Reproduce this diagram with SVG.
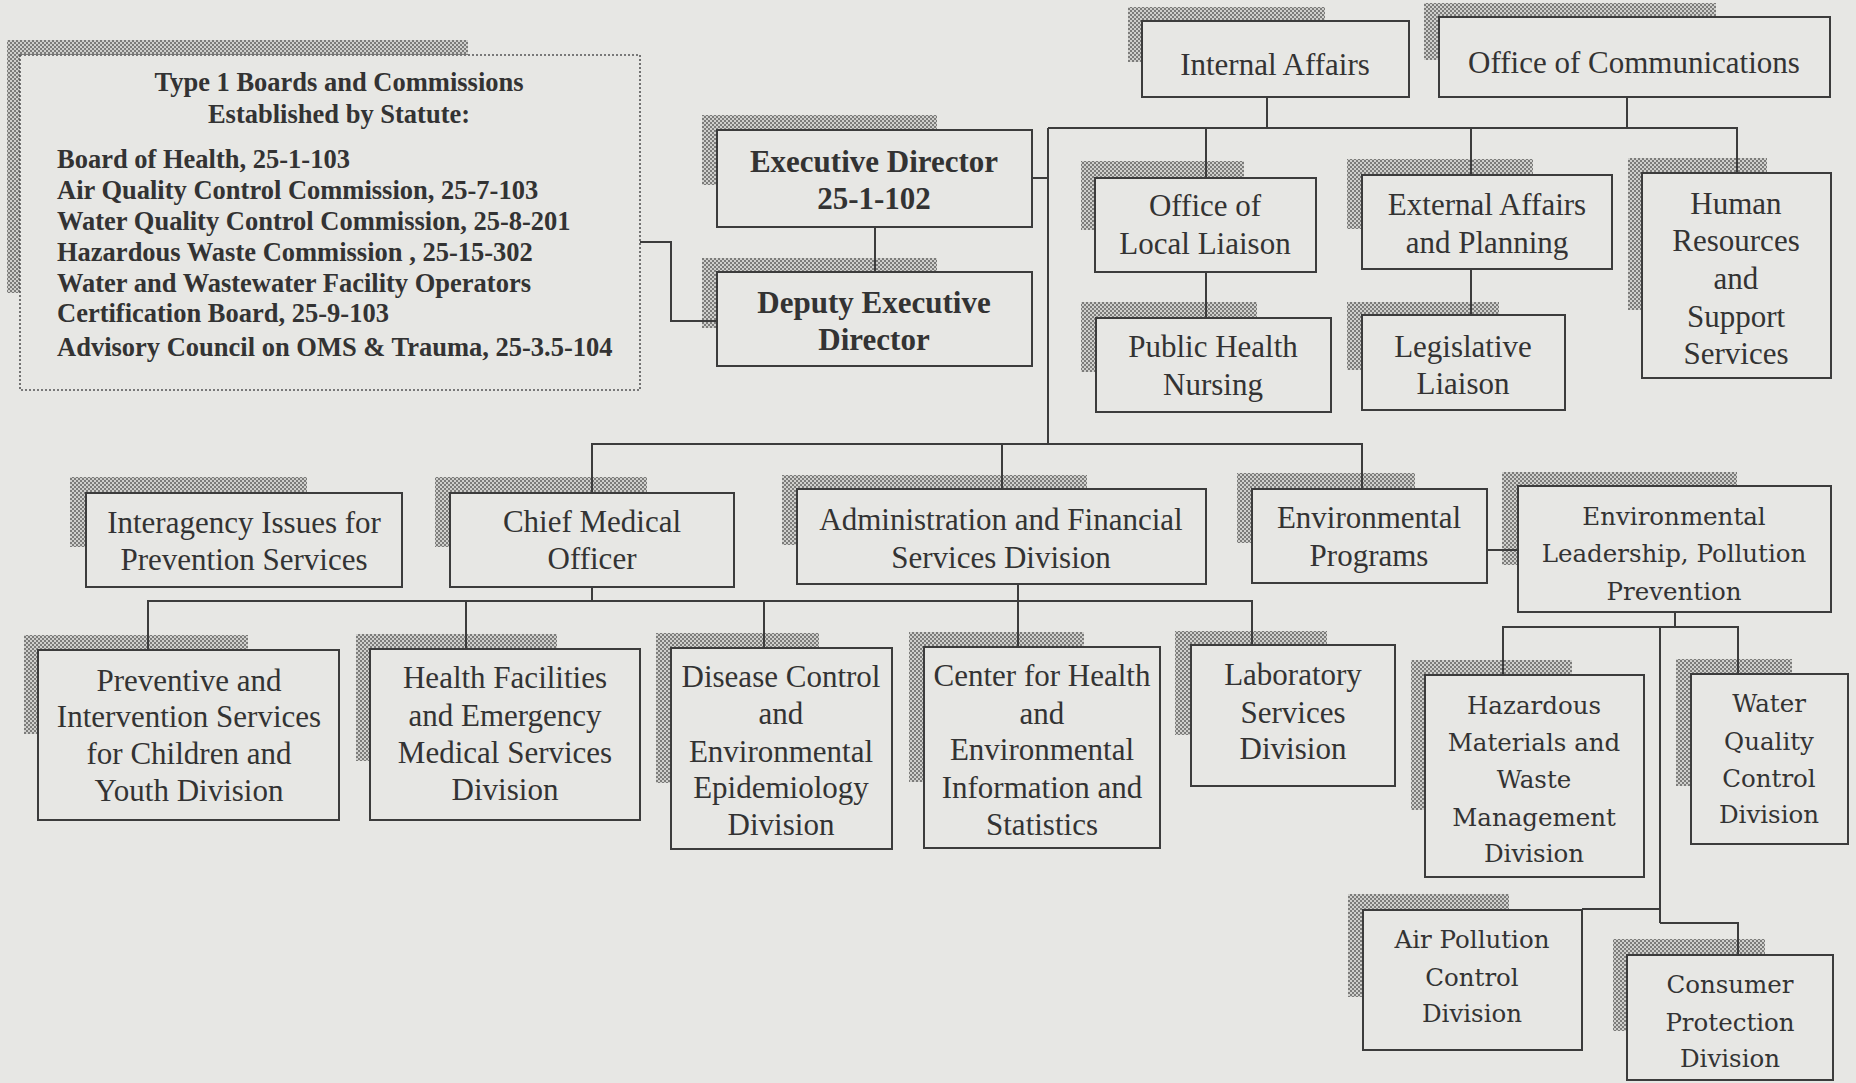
<svg xmlns="http://www.w3.org/2000/svg" width="1856" height="1083" viewBox="0 0 1856 1083">
<defs>
<pattern id="hatch" width="4" height="4" patternUnits="userSpaceOnUse">
<rect width="4" height="4" fill="#cfcfcc"/>
<rect width="2" height="2" fill="#7c7c7a"/>
<rect x="2" y="2" width="2" height="2" fill="#7c7c7a"/>
</pattern>
</defs>
<style>
.bg{fill:#e7e7e4}
.sh{fill:url(#hatch)}
.box{fill:#e7e7e4;stroke:#3c3c3c;stroke-width:2}
.dot{fill:#e7e7e4;stroke:#555;stroke-width:1.6;stroke-dasharray:2 2}
.t{font-family:"Liberation Serif","Times New Roman",serif;font-size:31px;fill:#333;text-anchor:middle}
.b{font-family:"Liberation Serif","Times New Roman",serif;font-size:31px;font-weight:bold;fill:#333;text-anchor:middle}
.w{font-family:"DejaVu Serif","Liberation Serif",serif;font-size:24.5px;fill:#333;text-anchor:middle}
.l{font-family:"Liberation Serif","Times New Roman",serif;font-size:26.5px;font-weight:bold;fill:#333}
.c{fill:none;stroke:#3c3c3c;stroke-width:2}
</style>
<rect class="bg" x="0" y="0" width="1856" height="1083"/>

<g id="type1-boards">
<rect class="sh" x="7" y="40" width="461" height="253"/>
<rect class="dot" x="20" y="55" width="620" height="335"/>
<text class="l" x="339" y="91" text-anchor="middle">Type 1 Boards and Commissions</text>
<text class="l" x="339" y="123" text-anchor="middle">Established by Statute:</text>
<text class="l" x="57" y="168">Board of Health, 25-1-103</text>
<text class="l" x="57" y="199">Air Quality Control Commission, 25-7-103</text>
<text class="l" x="57" y="230">Water Quality Control Commission, 25-8-201</text>
<text class="l" x="57" y="261">Hazardous Waste Commission , 25-15-302</text>
<text class="l" x="57" y="292">Water and Wastewater Facility Operators</text>
<text class="l" x="57" y="322">Certification Board, 25-9-103</text>
<text class="l" x="57" y="356">Advisory Council on OMS &amp; Trauma, 25-3.5-104</text>
</g>

<g id="executive-director">
<rect class="sh" x="702" y="115" width="235" height="70"/>
<rect class="box" x="717" y="130" width="315" height="97"/>
<text class="b"><tspan x="874" y="172">Executive Director</tspan><tspan x="874" y="209">25-1-102</tspan></text>
</g>
<g id="deputy-executive-director">
<rect class="sh" x="702" y="258" width="235" height="70"/>
<rect class="box" x="717" y="272" width="315" height="94"/>
<text class="b"><tspan x="874" y="313">Deputy Executive</tspan><tspan x="874" y="350">Director</tspan></text>
</g>
<g id="internal-affairs">
<rect class="sh" x="1128" y="7" width="197" height="55"/>
<rect class="box" x="1142" y="21" width="267" height="76"/>
<text class="t"><tspan x="1275" y="75">Internal Affairs</tspan></text>
</g>
<g id="office-of-communications">
<rect class="sh" x="1424" y="3" width="292" height="57"/>
<rect class="box" x="1439" y="17" width="391" height="80"/>
<text class="t"><tspan x="1634" y="73">Office of Communications</tspan></text>
</g>
<g id="office-of-local-liaison">
<rect class="sh" x="1081" y="161" width="163" height="69"/>
<rect class="box" x="1095" y="178" width="221" height="94"/>
<text class="t"><tspan x="1205" y="216">Office of</tspan><tspan x="1205" y="254">Local Liaison</tspan></text>
</g>
<g id="external-affairs">
<rect class="sh" x="1347" y="159" width="186" height="70"/>
<rect class="box" x="1362" y="175" width="250" height="94"/>
<text class="t"><tspan x="1487" y="215">External Affairs</tspan><tspan x="1487" y="253">and Planning</tspan></text>
</g>
<g id="human-resources">
<rect class="sh" x="1628" y="158" width="139" height="152"/>
<rect class="box" x="1642" y="173" width="189" height="205"/>
<text class="t"><tspan x="1736" y="214">Human</tspan><tspan x="1736" y="251">Resources</tspan><tspan x="1736" y="289">and</tspan><tspan x="1736" y="327">Support</tspan><tspan x="1736" y="364">Services</tspan></text>
</g>
<g id="public-health-nursing">
<rect class="sh" x="1081" y="302" width="176" height="70"/>
<rect class="box" x="1096" y="318" width="235" height="94"/>
<text class="t"><tspan x="1213" y="357">Public Health</tspan><tspan x="1213" y="395">Nursing</tspan></text>
</g>
<g id="legislative-liaison">
<rect class="sh" x="1347" y="302" width="152" height="68"/>
<rect class="box" x="1362" y="315" width="203" height="95"/>
<text class="t"><tspan x="1463" y="357">Legislative</tspan><tspan x="1463" y="394">Liaison</tspan></text>
</g>
<g id="interagency-issues">
<rect class="sh" x="70" y="477" width="237" height="70"/>
<rect class="box" x="86" y="493" width="316" height="94"/>
<text class="t"><tspan x="244" y="533">Interagency Issues for</tspan><tspan x="244" y="570">Prevention Services</tspan></text>
</g>
<g id="chief-medical-officer">
<rect class="sh" x="435" y="477" width="212" height="70"/>
<rect class="box" x="450" y="493" width="284" height="94"/>
<text class="t"><tspan x="592" y="532">Chief Medical</tspan><tspan x="592" y="569">Officer</tspan></text>
</g>
<g id="administration-financial">
<rect class="sh" x="782" y="475" width="305" height="70"/>
<rect class="box" x="797" y="489" width="409" height="95"/>
<text class="t"><tspan x="1001" y="530">Administration and Financial</tspan><tspan x="1001" y="568">Services Division</tspan></text>
</g>
<g id="environmental-programs">
<rect class="sh" x="1237" y="473" width="178" height="70"/>
<rect class="box" x="1252" y="489" width="235" height="94"/>
<text class="t"><tspan x="1369" y="528">Environmental</tspan><tspan x="1369" y="566">Programs</tspan></text>
</g>
<g id="environmental-leadership">
<rect class="sh" x="1502" y="472" width="235" height="93"/>
<rect class="box" x="1518" y="486" width="313" height="126"/>
<text class="w"><tspan x="1674" y="525">Environmental</tspan><tspan x="1674" y="562">Leadership, Pollution</tspan><tspan x="1674" y="600">Prevention</tspan></text>
</g>
<g id="preventive-intervention">
<rect class="sh" x="24" y="635" width="224" height="99"/>
<rect class="box" x="38" y="650" width="301" height="170"/>
<text class="t"><tspan x="189" y="691">Preventive and</tspan><tspan x="189" y="727">Intervention Services</tspan><tspan x="189" y="764">for Children and</tspan><tspan x="189" y="801">Youth Division</tspan></text>
</g>
<g id="health-facilities">
<rect class="sh" x="356" y="634" width="201" height="127"/>
<rect class="box" x="370" y="649" width="270" height="171"/>
<text class="t"><tspan x="505" y="688">Health Facilities</tspan><tspan x="505" y="726">and Emergency</tspan><tspan x="505" y="763">Medical Services</tspan><tspan x="505" y="800">Division</tspan></text>
</g>
<g id="disease-control">
<rect class="sh" x="656" y="633" width="163" height="150"/>
<rect class="box" x="671" y="648" width="221" height="201"/>
<text class="t"><tspan x="781" y="687">Disease Control</tspan><tspan x="781" y="724">and</tspan><tspan x="781" y="762">Environmental</tspan><tspan x="781" y="798">Epidemiology</tspan><tspan x="781" y="835">Division</tspan></text>
</g>
<g id="center-for-health">
<rect class="sh" x="909" y="632" width="175" height="150"/>
<rect class="box" x="924" y="647" width="236" height="201"/>
<text class="t"><tspan x="1042" y="686">Center for Health</tspan><tspan x="1042" y="724">and</tspan><tspan x="1042" y="760">Environmental</tspan><tspan x="1042" y="798">Information and</tspan><tspan x="1042" y="835">Statistics</tspan></text>
</g>
<g id="laboratory-services">
<rect class="sh" x="1175" y="631" width="152" height="104"/>
<rect class="box" x="1191" y="645" width="204" height="141"/>
<text class="t"><tspan x="1293" y="685">Laboratory</tspan><tspan x="1293" y="723">Services</tspan><tspan x="1293" y="759">Division</tspan></text>
</g>
<g id="hazardous-materials">
<rect class="sh" x="1411" y="660" width="161" height="150"/>
<rect class="box" x="1425" y="675" width="219" height="202"/>
<text class="w"><tspan x="1534" y="714">Hazardous</tspan><tspan x="1534" y="751">Materials and</tspan><tspan x="1534" y="788">Waste</tspan><tspan x="1534" y="826">Management</tspan><tspan x="1534" y="862">Division</tspan></text>
</g>
<g id="water-quality">
<rect class="sh" x="1676" y="659" width="116" height="127"/>
<rect class="box" x="1691" y="674" width="157" height="170"/>
<text class="w"><tspan x="1769" y="712">Water</tspan><tspan x="1769" y="750">Quality</tspan><tspan x="1769" y="787">Control</tspan><tspan x="1769" y="823">Division</tspan></text>
</g>
<g id="air-pollution">
<rect class="sh" x="1348" y="894" width="161" height="103"/>
<rect class="box" x="1363" y="910" width="219" height="140"/>
<text class="w"><tspan x="1472" y="948">Air Pollution</tspan><tspan x="1472" y="986">Control</tspan><tspan x="1472" y="1022">Division</tspan></text>
</g>
<g id="consumer-protection">
<rect class="sh" x="1613" y="939" width="152" height="92"/>
<rect class="box" x="1627" y="955" width="206" height="125"/>
<text class="w"><tspan x="1730" y="993">Consumer</tspan><tspan x="1730" y="1031">Protection</tspan><tspan x="1730" y="1067">Division</tspan></text>
</g>

<g id="connectors">
<path class="c" d="M640 242 H671 V321 H717"/>
<path class="c" d="M875 227 V272"/>
<path class="c" d="M1032 178 H1048"/>
<path class="c" d="M1048 128 V444"/>
<path class="c" d="M1048 128 H1737 V173"/>
<path class="c" d="M1267 97 V128"/>
<path class="c" d="M1627 97 V128"/>
<path class="c" d="M1206 128 V178"/>
<path class="c" d="M1471 128 V175"/>
<path class="c" d="M1206 272 V318"/>
<path class="c" d="M1471 269 V315"/>
<path class="c" d="M592 493 V444 H1362 V489"/>
<path class="c" d="M1002 444 V489"/>
<path class="c" d="M592 587 V601"/>
<path class="c" d="M148 650 V601 H1252 V645"/>
<path class="c" d="M466 601 V649"/>
<path class="c" d="M764 601 V648"/>
<path class="c" d="M1018 584 V647"/>
<path class="c" d="M1487 550 H1518"/>
<path class="c" d="M1675 612 V627"/>
<path class="c" d="M1503 675 V627 H1738 V674"/>
<path class="c" d="M1660 627 V923"/>
<path class="c" d="M1582 909 H1660"/>
<path class="c" d="M1660 923 H1738 V955"/>
</g>
</svg>
